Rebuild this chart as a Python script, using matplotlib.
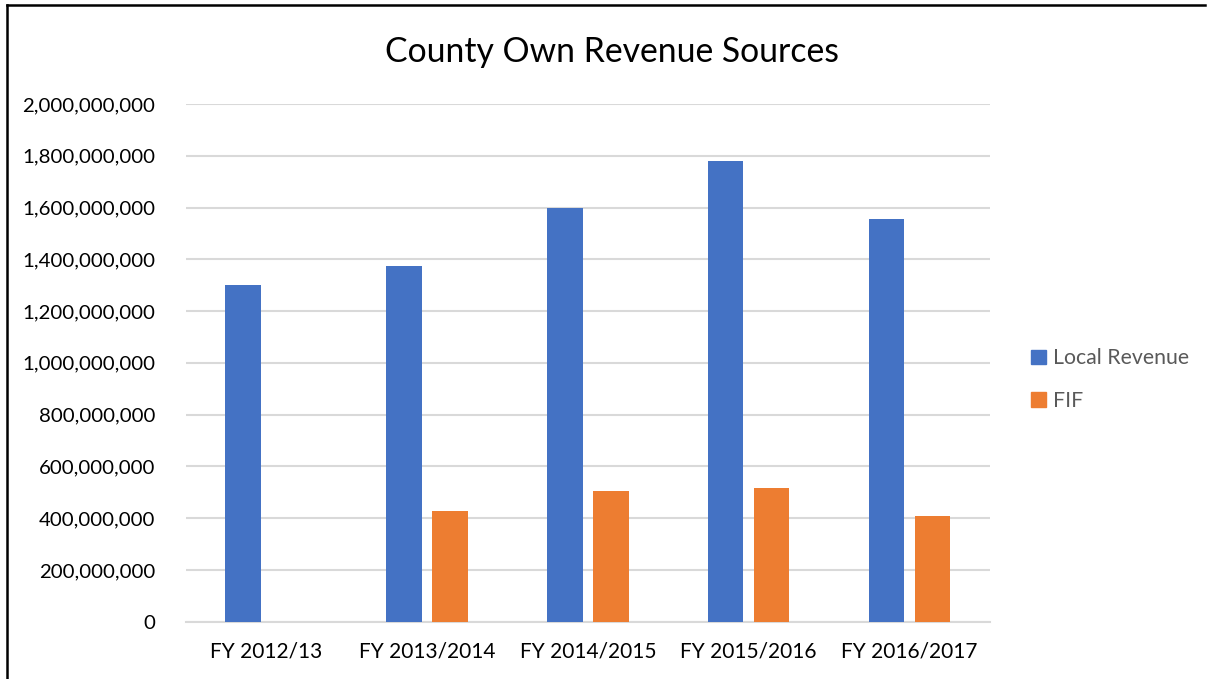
import numpy as np
import matplotlib
matplotlib.use('Agg')
import matplotlib.pyplot as plt
from matplotlib.ticker import FuncFormatter
from matplotlib.patches import Patch
from matplotlib.lines import Line2D

#data
years = ['FY 2012/13', 'FY 2013/2014', 'FY 2014/2015', 'FY 2015/2016', 'FY 2016/2017']
local_revenue = [1300000000, 1373000000, 1600000000, 1780000000, 1557000000]
fif = [0, 428000000, 505000000, 516000000, 408000000]
yticks = [0, 200000000, 400000000, 600000000, 800000000, 1000000000,
          1200000000, 1400000000, 1600000000, 1800000000, 2000000000]

plt.rcParams['font.family'] = ['Lato', 'DejaVu Sans']

#figure and axes
fig = plt.figure(figsize=(12.1, 6.79), dpi=100)
ax = fig.add_axes([0.1535, 0.0844, 0.6645, 0.7624])

x = np.arange(len(years))
width = 0.222
off = 0.143
ax.bar(x - off, local_revenue, width, color='#4472C4', label='Local Revenue', zorder=3)
ax.bar(x + off, fif, width, color='#ED7D31', label='FIF', zorder=3)

#axes
ax.set_xlim(-0.5, len(years) - 0.5)
ax.set_ylim(0, 2000000000)
ax.set_yticks(yticks)
ax.yaxis.set_major_formatter(FuncFormatter(lambda v, p: '{:,.0f}'.format(v)))
ax.set_xticks(x)
ax.set_xticklabels(years)
ax.tick_params(axis='both', length=0, colors='#000000')
ax.tick_params(axis='y', pad=22, labelsize=14.7)
ax.tick_params(axis='x', pad=14, labelsize=15)
for s in ['top', 'right', 'left']:
    ax.spines[s].set_visible(False)
ax.spines['bottom'].set_color('#d9d9d9')
ax.spines['bottom'].set_linewidth(1.5)
ax.yaxis.grid(True, color='#d9d9d9', linewidth=1.5, zorder=0)
ax.set_axisbelow(True)

#title
fig.text(0.506, 0.924, 'County Own Revenue Sources', ha='center', va='center',
         fontsize=24.3, color='#000000')

#legend
handles = [Patch(color='#4472C4'), Patch(color='#ED7D31')]
leg = fig.legend(handles, ['Local Revenue', 'FIF'], loc='center left',
                 bbox_to_anchor=(0.845, 0.441), frameon=False, fontsize=15.3,
                 handlelength=0.7, handleheight=0.7, handletextpad=0.35,
                 labelspacing=1.05, borderaxespad=0)
for t in leg.get_texts():
    t.set_color('#595959')

#frame lines (left and top)
fig.add_artist(Line2D([7 / 1210, 7 / 1210], [0, 1 - 5 / 679], color='black',
                      linewidth=1.8, transform=fig.transFigure))
fig.add_artist(Line2D([7 / 1210, 1205 / 1210], [1 - 5 / 679, 1 - 5 / 679],
                      color='black', linewidth=1.8, transform=fig.transFigure))

fig.savefig('out.png', dpi=100)
